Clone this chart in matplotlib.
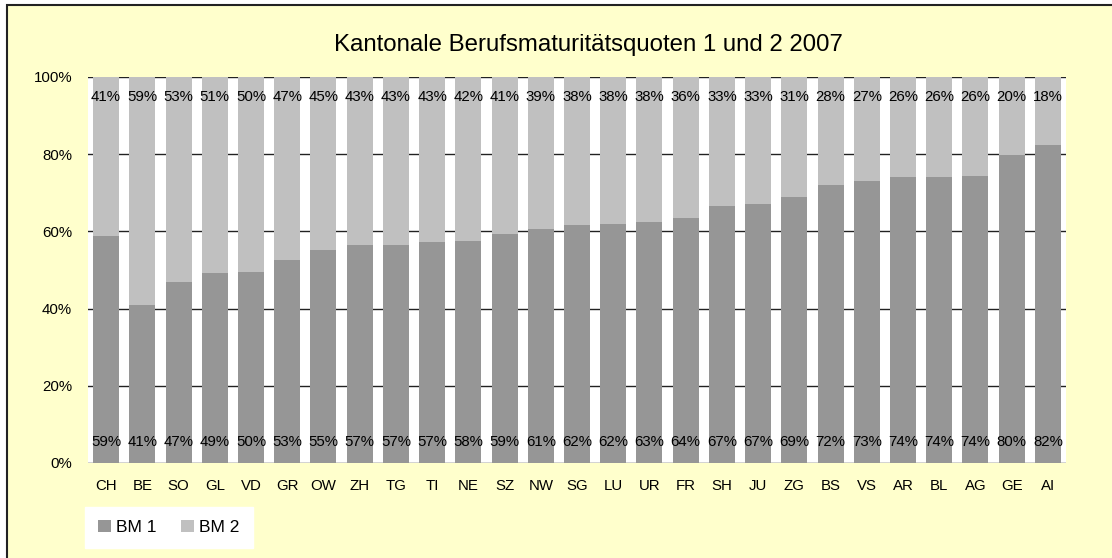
import numpy as np
import matplotlib.pyplot as plt
from matplotlib.patches import Rectangle

plt.rcParams['font.family'] = ['Liberation Sans', 'DejaVu Sans']

# Daten: Kantone und Anteile BM 1 / BM 2 (in %)
kantone = ['CH', 'BE', 'SO', 'GL', 'VD', 'GR', 'OW', 'ZH', 'TG', 'TI', 'NE', 'SZ', 'NW', 'SG',
           'LU', 'UR', 'FR', 'SH', 'JU', 'ZG', 'BS', 'VS', 'AR', 'BL', 'AG', 'GE', 'AI']
bm1 = [58.9, 40.9, 47.0, 49.1, 49.6, 52.6, 55.3, 56.6, 56.6, 57.3, 57.6, 59.4, 60.6, 61.6,
       62.0, 62.5, 63.6, 66.6, 67.2, 68.8, 72.0, 73.0, 74.0, 74.0, 74.4, 79.8, 82.4]
bm2 = [41.1, 59.1, 53.0, 50.9, 50.4, 47.4, 44.7, 43.4, 43.4, 42.7, 42.4, 40.6, 39.4, 38.4,
       38.0, 37.5, 36.4, 33.4, 32.8, 31.2, 28.0, 27.0, 26.0, 26.0, 25.6, 20.2, 17.6]
serien = ['BM 1', 'BM 2']
farben = ['#969696', '#C0C0C0']

W, H = 1112, 558
fig = plt.figure(figsize=(W / 100, H / 100), dpi=100, facecolor='white')

# Diagrammfläche (gelb, mit Rahmen links/oben)
fig.patches.append(Rectangle((7 / W, -0.05), 1.1, 1 - 5 / H + 0.05, transform=fig.transFigure,
                             facecolor='#FFFFCC', edgecolor='#222222', linewidth=1.5, zorder=-5))

ax = fig.add_axes([88 / W, 1 - 463 / H, (1066 - 88) / W, (463 - 77) / H])
ax.set_facecolor('white')

x = np.arange(len(kantone))
ax.bar(x, bm1, width=0.72, color=farben[0], label=serien[0], zorder=3)
ax.bar(x, bm2, width=0.72, bottom=bm1, color=farben[1], label=serien[1], zorder=3)

# Beschriftungen der Segmente
for i in range(len(kantone)):
    ax.text(x[i], 5.4, '%d%%' % int(np.floor(bm1[i] + 0.5)), ha='center', va='center',
            fontsize=10.8, zorder=4)
    ax.text(x[i], 94.8, '%d%%' % int(np.floor(bm2[i] + 0.5)), ha='center', va='center',
            fontsize=10.8, zorder=4)

ax.set_xlim(-0.5, len(kantone) - 0.5)
ax.set_ylim(0, 100)
ax.set_yticks(range(0, 101, 20))
ax.set_yticklabels(['%d%%' % v for v in range(0, 101, 20)], fontsize=10.8)
ax.set_xticks(x)
ax.set_xticklabels(kantone, fontsize=10.8)
ax.tick_params(axis='both', length=0)
ax.tick_params(axis='x', pad=11.5)
ax.tick_params(axis='y', pad=11.5)
ax.grid(axis='y', color='#222222', linewidth=1, zorder=1)
ax.set_axisbelow(True)
for s in ax.spines.values():
    s.set_visible(False)

fig.text(588 / W, 1 - 45 / H, 'Kantonale Berufsmaturitätsquoten 1 und 2 2007',
         ha='center', va='center', fontsize=17.3)

leg = fig.legend(loc='lower left', bbox_to_anchor=(85 / W, 1 - 548 / H), ncol=2,
                 frameon=True, fancybox=False, edgecolor='white', facecolor='white',
                 fontsize=12.5, handlelength=0.75, handleheight=0.75, handletextpad=0.3,
                 columnspacing=1.4, borderpad=0.75, borderaxespad=0, framealpha=1)

fig.savefig('out.png', dpi=100, facecolor=fig.get_facecolor())
